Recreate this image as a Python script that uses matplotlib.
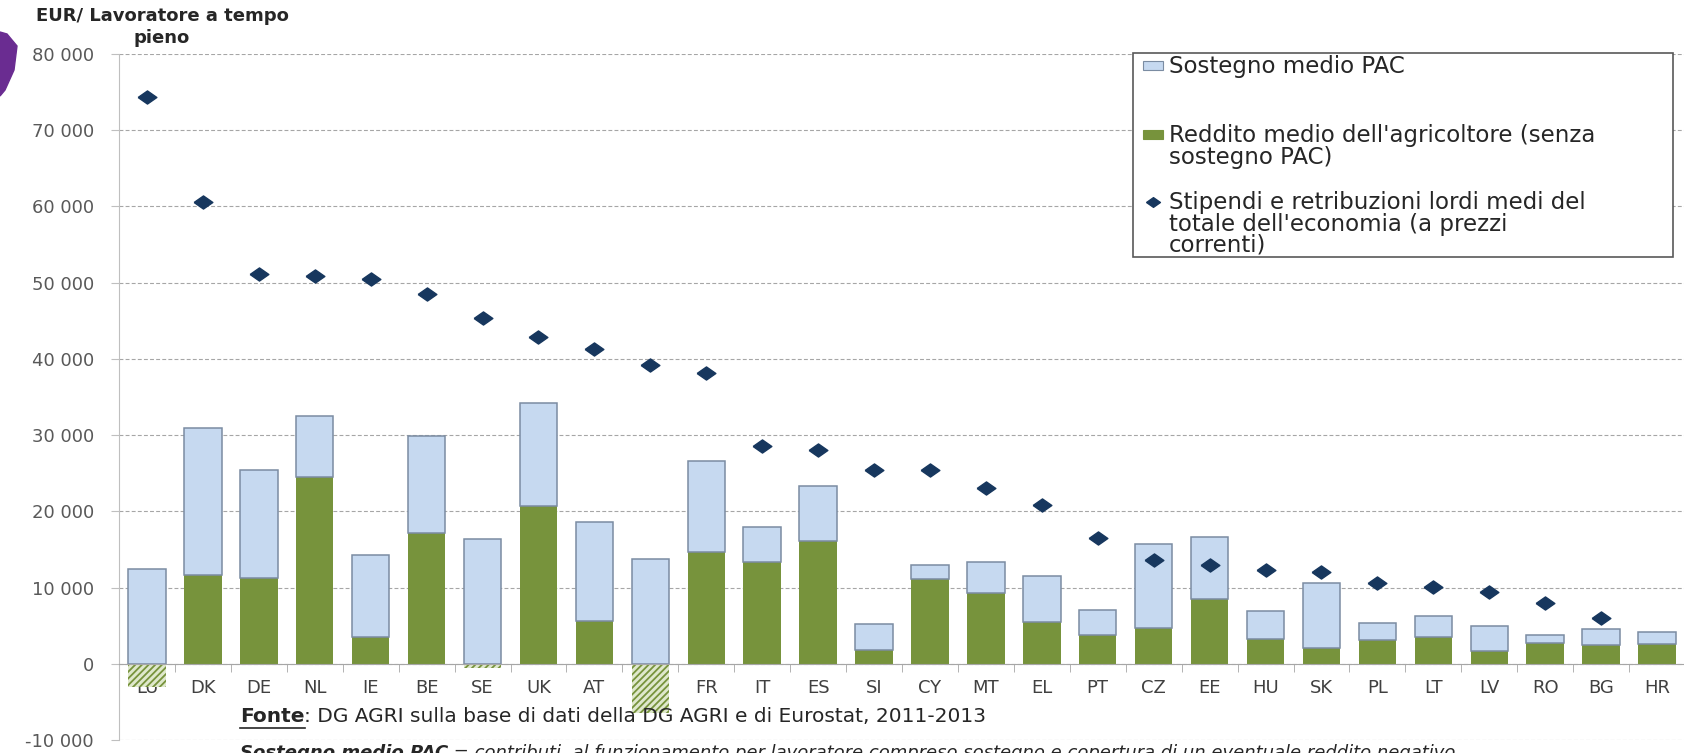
import matplotlib.pyplot as plt
import numpy as np
from matplotlib.patches import Rectangle, Polygon

paesi = ["LU", "DK", "DE", "NL", "IE", "BE", "SE", "UK", "AT", "FI", "FR", "IT", "ES", "SI",
         "CY", "MT", "EL", "PT", "CZ", "EE", "HU", "SK", "PL", "LT", "LV", "RO", "BG", "HR"]

# reddito medio dell'agricoltore senza sostegno PAC (EUR / ULA)
reddito = [-3100, 11600, 11200, 24550, 3520, 17130, -600, 20710, 5600, -6400, 14620, 13400, 16130, 1800,
           11150, 9300, 5450, 3830, 4700, 8500, 3280, 2090, 3170, 3550, 1650, 2740, 2400, 2620]

# sostegno medio PAC
sostegno = [12500, 19340, 14250, 7900, 10780, 12730, 16400, 13550, 12950, 13700, 12030, 4600, 7250, 3400,
            1750, 4000, 6110, 3270, 10950, 8110, 3640, 8510, 2130, 2750, 3300, 1020, 2200, 1530]

# stipendi e retribuzioni lordi medi del totale dell'economia
stipendi = [74300, 60600, 51100, 50850, 50500, 48500, 45400, 42900, 41350, 39150, 38150, 28550, 28050, 25450,
            25400, 23050, 20800, 16500, 13550, 12950, 12250, 12050, 10650, 10100, 9450, 7950, 6000, np.nan]

W, H = 1684, 753
VERDE = "#77933c"
AZZURRO = "#c6d9f0"
BORDO = "#7b8ca2"
BLU = "#17375e"
TESTO = "#262626"
rombo = [(-1, 0), (0, 0.7), (1, 0), (0, -0.7), (-1, 0)]

plt.rcParams["hatch.linewidth"] = 1.3

fig = plt.figure(figsize=(W / 100, H / 100), dpi=100)
ax = fig.add_axes([119 / W, 1 - 740 / H, 1566 / W, (740 - 54) / H])

x = np.arange(len(paesi))
red = np.array(reddito)
pos = np.where(red > 0, red, 0)
neg = np.where(red < 0, red, 0)

ax.bar(x, pos, width=0.67, color=VERDE, zorder=3)
ax.bar(x, sostegno, width=0.67, bottom=pos, color=AZZURRO, edgecolor=BORDO, linewidth=1.1, zorder=3)
ax.bar(x, neg, width=0.67, color="#dfe8cc", edgecolor=VERDE, linewidth=0, hatch="/////", zorder=3)
ax.plot(x, stipendi, linestyle="none", marker=rombo, markersize=13.5, color=BLU, zorder=4)

ax.set_xlim(-0.5, len(paesi) - 0.5)
ax.set_ylim(-10000, 80000)
ax.set_yticks(np.arange(-10000, 80001, 10000))
ax.set_yticklabels([f"{v:,}".replace(",", " ") for v in range(-10000, 80001, 10000)])
ax.grid(axis="y", color="#a6a6a6", linestyle=(0, (3.5, 2)), linewidth=0.8, zorder=0)

for s in ["top", "right"]:
    ax.spines[s].set_visible(False)
ax.spines["left"].set_color("#bfbfbf")
ax.spines["bottom"].set_position(("data", 0))
ax.spines["bottom"].set_color("#a6a6a6")
ax.spines["bottom"].set_zorder(3.5)

ax.set_xticks(x)
ax.set_xticklabels(paesi, fontsize=13, color="#404040")
ax.set_xticks(np.arange(-0.5, len(paesi), 1), minor=True)
ax.tick_params(axis="x", which="major", length=0, pad=11)
ax.tick_params(axis="x", which="minor", length=6, color="#a6a6a6", direction="out")
ax.tick_params(axis="y", length=6, color="#bfbfbf", labelsize=13, labelcolor="#595959", pad=12)

# overlay in pixel coordinates for title, legend and notes
ov = fig.add_axes([0, 0, 1, 1])
ov.set_xlim(0, W)
ov.set_ylim(H, 0)
ov.axis("off")
ov.patch.set_alpha(0)

ov.text(162, 16, "EUR/ Lavoratore a tempo", ha="center", va="center", fontsize=13, fontweight="bold", color=TESTO)
ov.text(162, 38, "pieno", ha="center", va="center", fontsize=13, fontweight="bold", color=TESTO)

# decorazione viola della slide
ov.add_patch(Polygon([(0, 32), (7, 34), (17, 46), (14, 70), (5, 90), (0, 96)], closed=True,
                     color="#6a2c91", zorder=5))

# legenda
L = 1133
ov.add_patch(Rectangle((L, 53), 540, 204, facecolor="white", edgecolor="#595959", linewidth=1.2, zorder=5))
fs = 16.5
tx = L + 36
ov.add_patch(Rectangle((L + 10, 61), 20, 9, facecolor=AZZURRO, edgecolor=BORDO, linewidth=0.8, zorder=6))
ov.text(tx, 66, "Sostegno medio PAC", va="center", fontsize=fs, color=TESTO, zorder=6)
ov.add_patch(Rectangle((L + 10, 130), 20, 9, facecolor=VERDE, edgecolor=VERDE, linewidth=0.8, zorder=6))
ov.text(tx, 135, "Reddito medio dell'agricoltore (senza", va="center", fontsize=fs, color=TESTO, zorder=6)
ov.text(tx, 157, "sostegno PAC)", va="center", fontsize=fs, color=TESTO, zorder=6)
ov.plot([L + 20], [202], marker=rombo, markersize=10, color=BLU, zorder=6)
ov.text(tx, 202, "Stipendi e retribuzioni lordi medi del", va="center", fontsize=fs, color=TESTO, zorder=6)
ov.text(tx, 224, "totale dell'economia (a prezzi", va="center", fontsize=fs, color=TESTO, zorder=6)
ov.text(tx, 245, "correnti)", va="center", fontsize=fs, color=TESTO, zorder=6)

# note
fig.canvas.draw()
r = fig.canvas.get_renderer()
fn = 14.5
x0 = 240
t1 = ov.text(x0, 717, "Fonte", va="center", fontsize=fn, fontweight="bold", color=TESTO)
bb = t1.get_window_extent(r)
x_end = x0 + bb.width
ov.plot([x0, x_end], [728, 728], color=TESTO, linewidth=1.2)
ov.text(x_end, 717, ": DG AGRI sulla base di dati della DG AGRI e di Eurostat, 2011-2013", va="center",
        fontsize=fn, color=TESTO)

fn2 = 13
t2 = ov.text(x0, 753, "Sostegno medio PAC", va="center", fontsize=fn2, fontweight="bold", style="italic",
             color=TESTO)
bb2 = t2.get_window_extent(r)
ov.text(x0 + bb2.width, 753, " = contributi, al funzionamento per lavoratore compreso sostegno e copertura di un "
        "eventuale reddito negativo", va="center", fontsize=fn2, style="italic", color=TESTO)

fig.savefig("out.png", dpi=100)
